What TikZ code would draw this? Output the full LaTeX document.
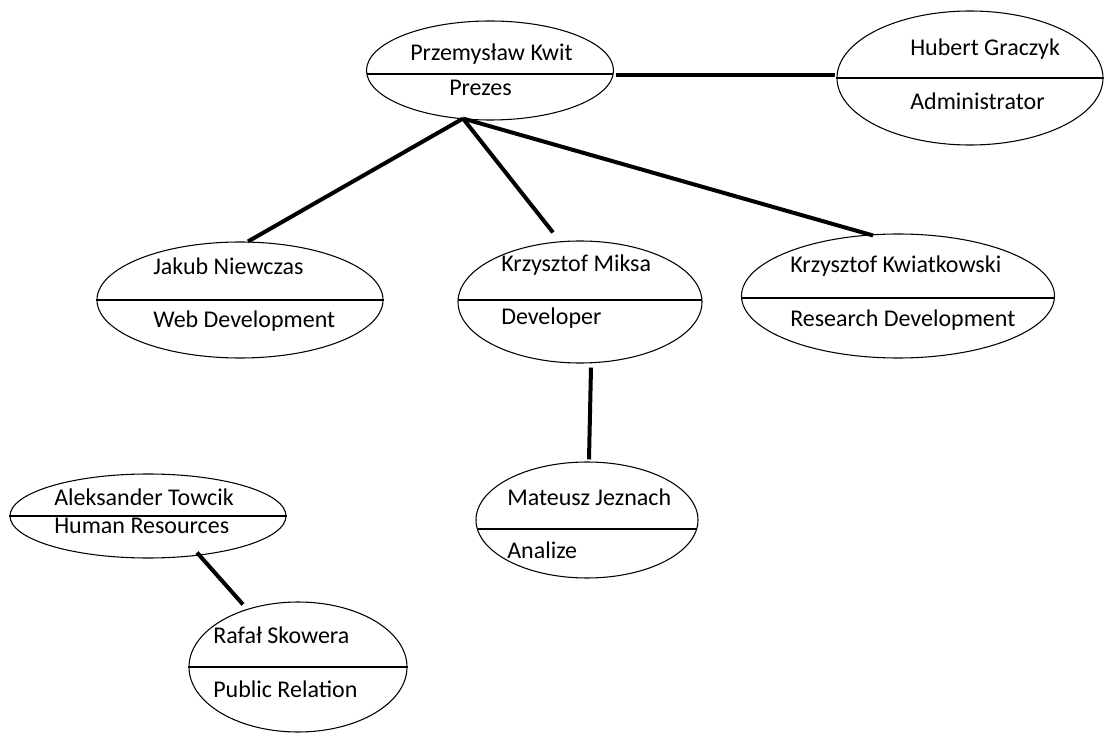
\documentclass[tikz,border=0pt]{standalone}
\usepackage{fontspec}
\setmainfont{Carlito}
\usetikzlibrary{shapes.geometric,calc}
\begin{document}
\begin{tikzpicture}[x=0.75pt,y=-0.75pt,
  oval/.style 2 args={draw=black,line width=0.8pt,ellipse,inner sep=0pt,
    minimum width={#1*0.75pt},minimum height={#2*0.75pt}},
  divider/.style={line width=0.8pt},
  lbl/.style={anchor=base west,inner sep=0pt,font=\fontsize{18}{21}\selectfont},
  link/.style={line width=3pt,line cap=butt}]
\useasboundingbox (0,0) rectangle (1104,734);
% ellipses
\node[oval={247}{99}] (prezes) at (490,70.5) {};
\node[oval={266}{134}] (hubert) at (970,78) {};
\node[oval={286}{116}] (jakub) at (240,300) {};
\node[oval={244}{122}] (miksa) at (580,302) {};
\node[oval={313}{124}] (kwiat) at (898,296) {};
\node[oval={222}{116}] (mateusz) at (587,520) {};
\node[oval={276}{84}] (alek) at (148,516) {};
\node[oval={218}{130}] (rafal) at (298,667) {};
% dividers
\draw[divider] ($(prezes.center)+(-123.2,3.5)$) -- ($(prezes.center)+(123.2,3.5)$);
\draw[divider] (hubert.west) -- (hubert.east);
\draw[divider] (jakub.west) -- (jakub.east);
\draw[divider] ($(miksa.center)+(-121.9,-2)$) -- ($(miksa.center)+(121.9,-2)$);
\draw[divider] ($(kwiat.center)+(-156.4,2)$) -- ($(kwiat.center)+(156.4,2)$);
\draw[divider] ($(mateusz.center)+(-109.7,9)$) -- ($(mateusz.center)+(109.7,9)$);
\draw[divider] (alek.west) -- (alek.east);
\draw[divider] (rafal.west) -- (rafal.east);
% labels
\node[lbl] (t1a) at (410,61) {Przemysław Kwit};
\node[lbl] (t1b) at (449,96) {Prezes};
\node[lbl] (t2a) at (910,56) {Hubert Graczyk};
\node[lbl] (t2b) at (910,110) {Administrator};
\node[lbl] (t3a) at (153,275) {Jakub Niewczas};
\node[lbl] (t3b) at (153,328) {Web Development};
\node[lbl] (t4a) at (501,272) {Krzysztof Miksa};
\node[lbl] (t4b) at (501,325) {Developer};
\node[lbl] (t5a) at (507,505) {Mateusz Jeznach};
\node[lbl] (t5b) at (507,558) {Analize};
\node[lbl] (t6a) at (790,273) {Krzysztof Kwiatkowski};
\node[lbl] (t6b) at (790,327) {Research Development};
\node[lbl] (t7a) at (54,505) {Aleksander Towcik};
\node[lbl] (t7b) at (54,533) {Human Resources};
\node[lbl] (t8a) at (213,643) {Rafał Skowera};
\node[lbl] (t8b) at (213,697) {Public Relation};
% connectors
\draw[link] ($(prezes.east)+(2,4.5)$) -- ($(hubert.west)+(-1,-3)$);
\draw[link] ($(prezes.south)+(-27,-2)$) -- ($(jakub.north)+(8,0)$);
\draw[link] ($(prezes.south)+(-27,-2)$) -- ($(miksa.north)+(-27,-8)$);
\draw[link] ($(prezes.south)+(-27,-2)$) -- ($(kwiat.north)+(-25,2)$);
\draw[link] ($(miksa.south)+(11,4)$) -- ($(mateusz.north)+(2,-2)$);
\draw[link] ($(alek.south)+(49,-6)$) -- ($(rafal.north)+(-55,3)$);
\end{tikzpicture}
\end{document}
